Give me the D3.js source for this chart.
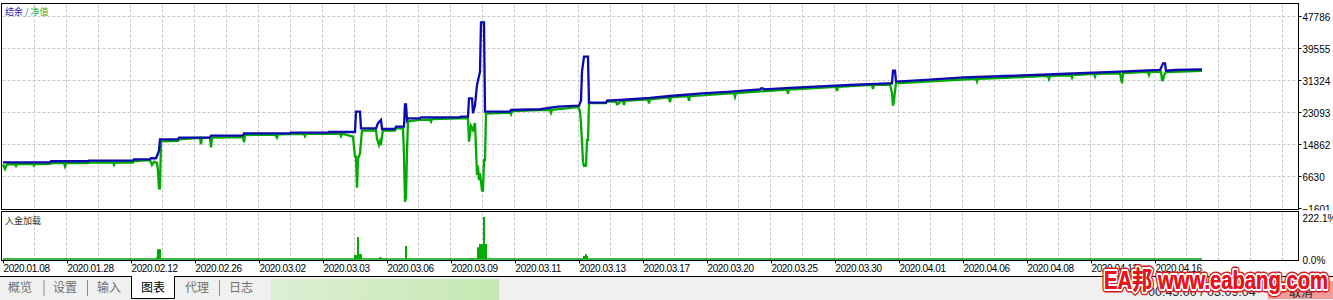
<!DOCTYPE html>
<html><head><meta charset="utf-8">
<script src="https://cdn.jsdelivr.net/npm/d3@7"></script>
<style>html,body{margin:0;padding:0;background:#fff;overflow:hidden}</style>
</head><body><svg id="c" width="1333" height="300"></svg>
<script>
// ---- data (trade number, value) ----
const balancePts = [[0,10160],[47,10160],[48,10420],[85,10420],[86,10570],[130,10570],[131,10930],[147,10930],[148,11190],[153,11190],[155,12400],[156,13200],[157,16070],[175,16070],[176,16490],[207,16490],[208,16990],[240,16990],[241,17620],[287,17620],[288,17800],[325,17800],[326,17950],[352,17950],[353,23190],[357,23190],[358,18900],[373,18900],[375,20200],[378,21040],[379,18720],[392,18720],[393,19320],[401,19320],[402,25070],[403,25070],[404,21040],[405,21470],[417,21470],[418,21730],[457,21730],[458,21890],[465,21890],[466,26620],[469,26620],[470,22750],[472,24800],[474,30040],[477,33460],[478,46160],[481,46160],[482,23170],[507,23170],[508,23610],[537,23800],[555,24500],[576,24700],[578,26000],[579,33460],[581,37320],[585,37320],[586,25480],[603,25480],[604,26000],[617,26180],[647,26700],[667,27210],[699,27900],[728,28320],[757,28900],[758,29190],[760,29190],[761,28900],[787,29300],[812,29600],[847,30040],[885,30480],[889,30480],[890,33720],[892,33720],[893,30900],[923,31330],[961,32020],[1003,32350],[1057,32870],[1117,33460],[1157,33900],[1159,35000],[1160,35620],[1162,35620],[1163,33700],[1172,33900],[1199,34060]];
const equityPts = [[0,9650],[2,8430],[4,9650],[12,9700],[13,9200],[14,9700],[30,9700],[31,9300],[32,9720],[47,9760],[49,9950],[61,9950],[62,9100],[63,9950],[85,9950],[87,10100],[110,10100],[111,9500],[112,10100],[130,10100],[131,10450],[147,10750],[149,9460],[151,10300],[154,10000],[155,8000],[156,3470],[157,3470],[158,15550],[175,15650],[176,16050],[197,16450],[198,14800],[199,16450],[207,16500],[208,14010],[209,16500],[227,16550],[240,16650],[241,15300],[242,17150],[272,17300],[274,16500],[275,17350],[287,17400],[301,17450],[302,16900],[303,17500],[337,17550],[338,16900],[339,17550],[350,16740],[352,11600],[353,11600],[354,3620],[355,11000],[357,12500],[358,15450],[359,18300],[373,18400],[374,16200],[376,14600],[377,15500],[378,14600],[379,17000],[380,18300],[392,18300],[393,18950],[400,18850],[401,12000],[402,10],[403,1000],[404,13000],[405,20700],[417,21050],[427,21150],[428,20600],[429,21250],[457,21430],[465,21430],[466,15450],[468,19500],[470,18460],[472,20260],[474,6890],[475,9280],[476,5600],[477,7330],[478,5170],[479,2860],[480,2860],[481,10750],[482,10750],[483,22700],[507,22950],[508,22500],[509,23350],[537,23550],[547,23600],[548,22900],[549,23650],[575,24350],[577,23400],[578,20180],[580,10320],[581,9200],[583,9280],[584,15880],[585,15880],[586,25400],[603,25400],[604,25750],[613,25850],[614,25100],[616,25300],[617,25850],[620,25950],[621,24900],[622,25950],[645,26350],[646,25300],[647,26350],[666,26850],[667,25600],[668,26850],[685,27150],[686,26000],[687,27150],[731,27950],[732,27000],[733,27950],[784,28850],[785,27800],[786,28850],[833,29550],[834,28500],[835,29550],[869,30050],[870,29000],[871,30050],[887,30150],[889,28000],[890,24720],[891,26000],[892,28500],[893,30450],[923,30900],[973,31650],[974,30900],[975,31650],[1003,31900],[1045,32400],[1046,31600],[1047,32400],[1068,32550],[1069,31900],[1070,32600],[1091,32900],[1092,32200],[1093,32900],[1117,33050],[1119,30480],[1120,33100],[1145,33400],[1146,32600],[1147,33400],[1158,33450],[1159,31330],[1160,31330],[1161,32500],[1163,33350],[1199,33650]];
const loadPts = [[62,4],[153,9],[154,52],[155,52],[156,52],[157,52],[351,21],[352,21],[353,21],[354,116],[355,116],[356,26],[357,26],[358,26],[376,9],[377,9],[378,9],[402,69],[403,69],[467,5],[468,5],[469,5],[474,62],[475,62],[476,79],[477,79],[478,79],[479,79],[480,222.1],[481,222.1],[482,79],[483,79],[580,16],[581,16],[582,26],[583,26],[584,16],[890,5]];
const tradeCount = 1199;
const yTicks = [47786,39555,31324,23093,14862,6630,-1601];
const loadTicks = [222.1, 0];
const xTickTrades = [0,64,128,192,256,320,384,448,512,576,640,704,768,832,896,960,1024,1088,1152];
const xTickLabels = ["2020.01.08","2020.01.28","2020.02.12","2020.02.26","2020.03.02","2020.03.03","2020.03.06","2020.03.09","2020.03.11","2020.03.13","2020.03.17","2020.03.20","2020.03.25","2020.03.30","2020.04.01","2020.04.06","2020.04.08","2020.04.12","2020.04.16"];
const legendLabels = ["结余","/","净值"];
const subTitle = "入金加载";
const tabLabels = ["概览","设置","输入","图表","代理","日志"];
const activeTab = "图表";
const timeText = "00:45:00 / 03:09:04";
const cancelText = "取消";
const watermark = "EA邦 www.eabang.com";

// ---- layout ----
const W = 1333, H = 300;
const fL = 1.5, fR = 1298.5, mT = 3.5, mB = 209.5, sT = 211.5, sB = 260.5;
const svg = d3.select("#c");
const num = "'Liberation Sans', Arial, sans-serif";
const cjk = "'Noto Sans CJK SC', sans-serif";
const gridCol = "#c8c8c8";

const x = d3.scaleLinear().domain([0, tradeCount]).range([3, 1202]);
const y = d3.scaleLinear().domain([-1601, 47786]).range([208, 16]);
const ys = d3.scaleLinear().domain([0, 222.1]).range([259, 217]);

svg.append("rect").attr("width", W).attr("height", H).attr("fill", "#fff");

const defs = svg.append("defs");
defs.append("clipPath").attr("id", "mainClip").append("rect")
  .attr("x", fL + 0.5).attr("y", mT + 0.5).attr("width", fR - fL - 1).attr("height", mB - mT - 1);
const grad = defs.append("linearGradient").attr("id", "prog").attr("x1", 0).attr("x2", 1);
grad.append("stop").attr("offset", 0).attr("stop-color", "#dcefd4");
grad.append("stop").attr("offset", 1).attr("stop-color", "#c6e8b2");

// vertical gridlines (every 32 trades)
const vGrid = d3.range(31, 1296, 32).map(t => Math.round(x(t)) + 0.5).filter(v => v < fR - 2);
const gg = svg.append("g").attr("stroke", gridCol).attr("stroke-dasharray", "3,2").attr("stroke-width", 1);
vGrid.forEach(v => {
  gg.append("line").attr("x1", v).attr("x2", v).attr("y1", mT + 1).attr("y2", mB - 0.5);
});
yTicks.slice(0, -1).forEach(t => {
  const yy = Math.round(y(t)) + 0.5;
  gg.append("line").attr("x1", fL + 1).attr("x2", fR - 1).attr("y1", yy).attr("y2", yy);
});

// lines
const line = d3.line().x(d => x(d[0])).y(d => y(d[1]));
const plot = svg.append("g").attr("clip-path", "url(#mainClip)");
plot.append("path").datum(equityPts).attr("d", line).attr("fill", "none")
  .attr("stroke", "#00aa00").attr("stroke-width", 2.3).attr("stroke-linejoin", "miter");
plot.append("path").datum(balancePts).attr("d", line).attr("fill", "none")
  .attr("stroke", "#0a0ab0").attr("stroke-width", 2.3).attr("stroke-linejoin", "miter");

// main frame
svg.append("rect").attr("x", fL).attr("y", mT).attr("width", fR - fL).attr("height", mB - mT)
  .attr("fill", "none").attr("stroke", "#000");

// right axis main
const yAxis = d3.axisRight(y).tickValues(yTicks).tickSize(3).tickFormat(d3.format("d"));
const ya = svg.append("g").attr("transform", `translate(${fR},0)`).call(yAxis);
ya.select(".domain").remove();
ya.selectAll("line").attr("stroke", "#000");
ya.selectAll("text").attr("x", 4).attr("dy", "0.45em").attr("font-family", num)
  .attr("font-size", 10).attr("fill", "#000");

// legend
const lg = svg.append("text").attr("x", 5).attr("y", 15).attr("font-family", cjk).attr("font-size", 9);
lg.append("tspan").text(legendLabels[0]).attr("fill", "#1a1ab8");
lg.append("tspan").text(" " + legendLabels[1] + " ").attr("fill", "#3050c0");
lg.append("tspan").text(legendLabels[2]).attr("fill", "#3aa820");

// sub panel background (covers lower part of bottom label)
svg.append("rect").attr("x", 0).attr("y", sT - 1).attr("width", W).attr("height", sB - sT + 1).attr("fill", "#fff");
const gg2 = svg.append("g").attr("stroke", gridCol).attr("stroke-dasharray", "3,2");
vGrid.forEach(v => gg2.append("line").attr("x1", v).attr("x2", v).attr("y1", sT + 1).attr("y2", sB - 0.5));

// load bars
svg.append("g").selectAll("rect").data(loadPts).join("rect")
  .attr("x", d => x(d[0])).attr("width", d => Math.max(1, x(d[0] + 1) - x(d[0])))
  .attr("y", d => ys(d[1])).attr("height", d => ys(0) - ys(d[1]))
  .attr("fill", "#00aa00");
svg.append("line").attr("x1", x(0)).attr("x2", x(tradeCount)).attr("y1", ys(0)).attr("y2", ys(0))
  .attr("stroke", "#00a000").attr("stroke-width", 1.5);

svg.append("rect").attr("x", fL).attr("y", sT).attr("width", fR - fL).attr("height", sB - sT)
  .attr("fill", "none").attr("stroke", "#000");
svg.append("text").attr("x", 5).attr("y", 224).attr("font-family", cjk).attr("font-size", 9)
  .attr("fill", "#333").text(subTitle);

const sAxis = d3.axisRight(ys).tickValues(loadTicks).tickSize(0).tickFormat(d => d3.format(".1f")(d) + "%");
const sa = svg.append("g").attr("transform", `translate(${fR},0)`).call(sAxis);
sa.select(".domain").remove();
sa.selectAll("text").attr("x", 4).attr("dy", "0.4em").attr("font-family", num)
  .attr("font-size", 10).attr("fill", "#000");

// x axis labels
const xAxis = d3.axisBottom(x).tickValues(xTickTrades).tickSize(3)
  .tickFormat((d, i) => xTickLabels[i]);
const xa = svg.append("g").attr("transform", `translate(0,${sB})`).call(xAxis);
xa.select(".domain").remove();
xa.selectAll("line").attr("stroke", "#000");
xa.selectAll("text").attr("text-anchor", "start").attr("y", 11.5).attr("dy", 0)
  .attr("font-family", num).attr("font-size", 10).attr("letter-spacing", -0.4).attr("fill", "#000");

// bottom tab strip
svg.append("rect").attr("x", 0).attr("y", 277).attr("width", W).attr("height", 23).attr("fill", "#f0f0f0");
svg.append("line").attr("x1", 0).attr("x2", W).attr("y1", 276.5).attr("y2", 276.5).attr("stroke", "#000");
svg.append("rect").attr("x", 271).attr("y", 279).attr("width", 228).attr("height", 21).attr("fill", "url(#prog)");
const tabX = [20, 65, 109, 153, 197, 241];
svg.append("path").attr("d", "M131.5,276.5 V298.5 H174.5 V276.5").attr("fill", "#fff").attr("stroke", "#000");
svg.append("line").attr("x1", 132).attr("x2", 174).attr("y1", 276.5).attr("y2", 276.5).attr("stroke", "#fff");
[44, 87.5, 219.5].forEach(v => svg.append("line").attr("x1", v).attr("x2", v).attr("y1", 280).attr("y2", 296)
  .attr("stroke", "#8a8a8a"));
svg.append("g").selectAll("text").data(tabLabels).join("text")
  .attr("x", (d, i) => tabX[i]).attr("y", 292).attr("text-anchor", "middle")
  .attr("font-family", cjk).attr("font-size", 12)
  .attr("fill", d => d === activeTab ? "#000" : "#707070").text(d => d);

// status / cancel button
svg.append("text").attr("x", 1148).attr("y", 296).attr("font-family", num).attr("font-size", 12.5)
  .attr("fill", "#222").text(timeText);
svg.append("rect").attr("x", 1268).attr("y", 281).attr("width", 65).attr("height", 18).attr("fill", "#ee9c9c");
svg.append("text").attr("x", 1301).attr("y", 297).attr("text-anchor", "middle").attr("font-family", cjk)
  .attr("font-size", 12).attr("fill", "#222").text(cancelText);

// watermark
const wm = (stroke, sw) => svg.append("text").attr("x", 1104).attr("y", 289)
  .attr("font-family", "'Liberation Sans', 'Noto Sans CJK SC', sans-serif").attr("font-weight", "bold")
  .attr("font-size", 25).attr("textLength", 224).attr("lengthAdjust", "spacingAndGlyphs")
  .attr("fill", "#e8141b").attr("stroke", stroke).attr("stroke-width", sw)
  .attr("stroke-linejoin", "round").attr("paint-order", "stroke").text(watermark);
wm("#d42020", 7);
wm("#ffffff", 4);
wm("none", 0);
</script></body></html>
